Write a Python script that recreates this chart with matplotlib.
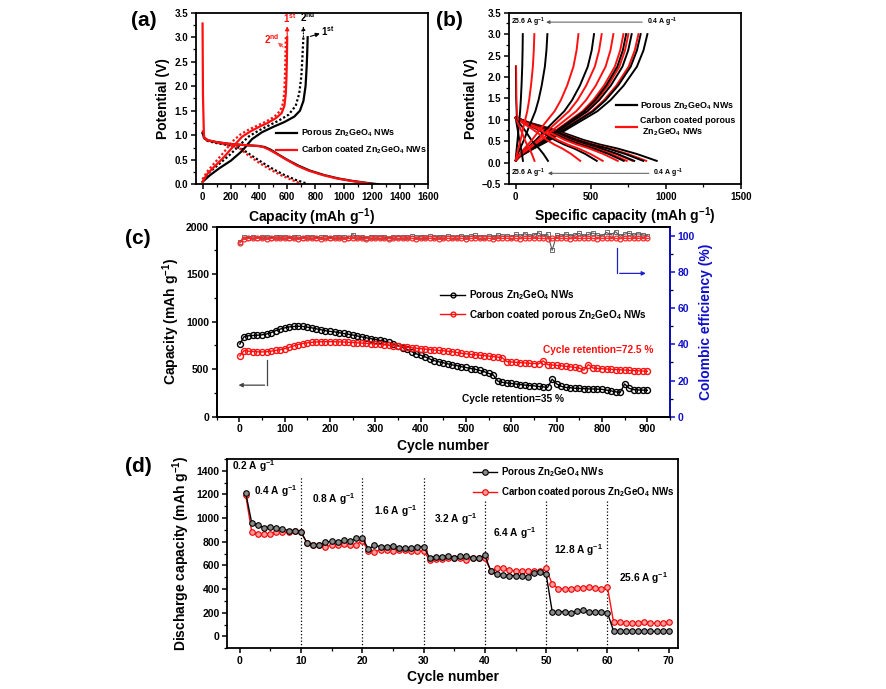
import numpy as np
import matplotlib
matplotlib.use("Agg")
import matplotlib.pyplot as plt
from matplotlib.ticker import MultipleLocator

plt.rcParams.update({
    'font.family': 'Liberation Sans',
    'font.weight': 'bold',
    'axes.labelweight': 'bold',
    'mathtext.fontset': 'custom',
    'mathtext.rm': 'Liberation Sans:bold',
    'mathtext.bf': 'Liberation Sans:bold',
    'mathtext.it': 'Liberation Sans:bold:italic',
    'mathtext.sf': 'Liberation Sans:bold',
    'mathtext.default': 'rm',
    'axes.linewidth': 1.3,
})

UNIT = r'(mAh g$^{-1}$)'
ZGO = r'Zn$_2$GeO$_4$'

# ---------------- Panel (a) data ----------------
a_dis1_porous_cap = [0, 10, 30, 100, 200, 300, 400, 440, 480, 530, 600, 680, 760, 860, 960, 1060, 1160, 1250]
a_dis1_porous_v = [1.05, 0.95, 0.90, 0.86, 0.82, 0.80, 0.78, 0.76, 0.71, 0.62, 0.50, 0.38, 0.28, 0.19, 0.12, 0.07, 0.03, 0.0]
a_dis1_carbon_cap = [0, 3, 10, 30, 100, 200, 300, 400, 430, 470, 520, 590, 670, 750, 850, 950, 1050, 1150, 1210]
a_dis1_carbon_v = [3.28, 1.8, 0.95, 0.90, 0.86, 0.82, 0.80, 0.78, 0.76, 0.71, 0.63, 0.51, 0.38, 0.28, 0.19, 0.12, 0.07, 0.03, 0.0]
a_dis2_porous_cap = [0, 15, 40, 100, 200, 270, 340, 420, 500, 580, 660, 745]
a_dis2_porous_v = [1.05, 0.93, 0.88, 0.84, 0.79, 0.74, 0.60, 0.45, 0.31, 0.19, 0.09, 0.01]
a_dis2_carbon_cap = [0, 15, 40, 100, 200, 260, 320, 400, 480, 560, 640, 700]
a_dis2_carbon_v = [1.10, 0.95, 0.90, 0.85, 0.79, 0.74, 0.60, 0.44, 0.30, 0.18, 0.08, 0.01]
a_chg1_porous_cap = [0, 50, 120, 200, 280, 350, 420, 500, 580, 650, 690, 715, 730, 738, 742, 745]
a_chg1_porous_v = [0.05, 0.18, 0.33, 0.48, 0.68, 0.92, 1.06, 1.17, 1.27, 1.38, 1.50, 1.70, 2.00, 2.40, 2.70, 3.00]
a_chg2_porous_cap = [0, 50, 120, 200, 270, 330, 400, 470, 540, 610, 660, 685, 700, 708, 712, 715]
a_chg2_porous_v = [0.10, 0.25, 0.42, 0.62, 0.82, 0.98, 1.10, 1.20, 1.30, 1.42, 1.60, 1.85, 2.20, 2.60, 2.85, 3.00]
a_chg1_carbon_cap = [0, 30, 80, 150, 220, 280, 340, 400, 460, 520, 560, 580, 590, 595, 598, 600]
a_chg1_carbon_v = [0.05, 0.20, 0.35, 0.55, 0.78, 0.97, 1.08, 1.17, 1.25, 1.35, 1.45, 1.60, 1.85, 2.20, 2.60, 3.00]
a_chg2_carbon_cap = [0, 30, 80, 150, 210, 270, 330, 390, 450, 510, 550, 570, 580, 585, 588, 590]
a_chg2_carbon_v = [0.10, 0.25, 0.42, 0.65, 0.87, 1.02, 1.12, 1.20, 1.28, 1.38, 1.50, 1.65, 1.90, 2.30, 2.70, 3.00]

# ---------------- Panel (b) data ----------------
b_rates = ['0.4', '0.8', '1.6', '3.2', '6.4', '12.8', '25.6']
b_chg_cap_porous = [878, 833, 773, 736, 522, 211, 47]
b_chg_cap_carbon = [818, 751, 718, 651, 573, 418, 124]
b_dis_cap_porous = [940, 850, 790, 720, 540, 215, 48]
b_dis_cap_carbon = [870, 780, 740, 680, 580, 430, 125]
b_chg_shape_frac = [0, 0.03, 0.12, 0.26, 0.40, 0.51, 0.62, 0.72, 0.82, 0.92, 0.97, 1.0]
b_chg_shape_v = [0.05, 0.14, 0.30, 0.53, 0.80, 1.00, 1.20, 1.46, 1.80, 2.24, 2.62, 3.00]
b_dis_shape_frac = [0, 0.02, 0.10, 0.24, 0.36, 0.48, 0.60, 0.72, 0.86, 1.0]
b_dis_shape_v = [1.05, 1.03, 0.93, 0.80, 0.67, 0.53, 0.42, 0.33, 0.20, 0.04]
b_ocv_porous_cap = [0, 2, 6, 12]
b_ocv_porous_v = [2.25, 1.5, 1.1, 1.0]
b_ocv_carbon_cap = [3, 5, 9, 16]
b_ocv_carbon_v = [2.25, 1.55, 1.12, 1.0]

# ---------------- Panel (c) data ----------------
c_cycles = [1] + list(range(10, 901, 10))
c_cap_porous = [765, 840, 852, 855, 858, 862, 870, 885, 905, 922,
                935, 945, 950, 952, 950, 943, 935, 925, 915, 905,
                898, 893, 885, 876, 868, 860, 850, 840, 830, 822,
                812, 804, 795, 782, 765, 748, 728, 708, 685, 662,
                648, 630, 608, 590, 578, 568, 556, 545, 538, 526,
                518, 507, 500, 488, 474, 456, 440, 375, 362, 355,
                350, 344, 338, 333, 328, 325, 318, 314, 308, 395,
                345, 320, 308, 305, 300, 298, 296, 293, 292, 290,
                288, 280, 272, 262, 255, 345, 298, 285, 282, 280,
                278]
c_cap_carbon = [640, 695, 690, 686, 683, 682, 684, 690, 698, 706,
                716, 730, 745, 760, 770, 778, 783, 787, 789, 790,
                790, 789, 788, 786, 784, 781, 778, 775, 772, 769,
                765, 761, 757, 752, 747, 742, 737, 732, 726, 721,
                716, 712, 707, 702, 698, 694, 689, 683, 676, 668,
                662, 656, 652, 648, 643, 638, 633, 627, 620, 580,
                576, 572, 569, 566, 563, 560, 556, 588, 548, 544,
                540, 535, 530, 525, 518, 512, 490, 548, 512, 508,
                505, 502, 499, 496, 494, 491, 488, 485, 483, 481,
                478]
c_ce_porous = [96.5, 99.2, 99.0, 99.3, 98.9, 99.1, 99.4, 99.0, 99.2, 99.1,
               99.3, 99.0, 99.2, 99.1, 98.9, 99.2, 99.3, 99.0, 99.1, 99.4,
               99.0, 99.2, 99.1, 99.3, 99.0, 100.6, 99.2, 99.1, 99.0, 99.3,
               99.2, 99.4, 99.1, 99.0, 99.2, 99.5, 99.3, 99.1, 99.6, 99.2,
               99.4, 99.1, 99.6, 99.3, 99.5, 99.2, 99.7, 99.4, 99.3, 99.8,
               99.4, 99.6, 100.2, 99.5, 99.3, 99.8, 99.5, 100.4, 99.6, 99.8,
               99.5, 100.8, 99.7, 101.2, 99.6, 100.5, 101.6, 99.8, 100.9, 92.0,
               100.3, 99.7, 101.0, 99.9, 100.4, 101.3, 99.8, 100.7, 101.5, 100.2,
               99.9, 101.8, 100.6, 102.2, 99.7, 100.9, 101.4, 100.3, 101.1, 100.5,
               100.0]
c_ce_carbon = [96.0, 98.4, 98.5, 98.5, 98.6, 98.5, 98.4, 98.5, 98.6, 98.5,
               98.5, 98.6, 98.5, 98.4, 98.5, 98.6, 98.5, 98.5, 98.4, 98.6,
               98.5, 98.5, 98.6, 98.4, 98.5, 98.5, 98.6, 98.5, 98.4, 98.5,
               98.6, 98.5, 98.5, 98.4, 98.6, 98.5, 98.5, 98.6, 98.5, 98.4,
               98.5, 98.6, 98.5, 98.5, 98.4, 98.6, 98.5, 98.5, 98.6, 98.5,
               98.4, 98.5, 98.6, 98.5, 98.5, 98.6, 98.4, 98.5, 98.5, 98.6,
               98.5, 98.5, 98.4, 98.6, 98.5, 98.5, 98.6, 98.5, 98.4, 98.5,
               98.6, 98.5, 98.5, 98.4, 98.6, 98.5, 98.5, 98.6, 98.5, 98.4,
               98.5, 98.6, 98.5, 98.5, 98.4, 98.6, 98.5, 98.5, 98.6, 98.5,
               98.5]

# ---------------- Panel (d) data ----------------
d_cycles = list(range(1, 71))
d_cap_porous = [1215, 955, 940, 920, 925, 915, 910, 895, 895, 885,
                790, 775, 775, 795, 805, 800, 815, 805, 830, 835,
                740, 770, 760, 760, 765, 750, 750, 745, 760, 760,
                665, 675, 675, 680, 665, 680, 680, 665, 665, 685,
                550, 525, 520, 515, 515, 510, 500, 540, 545, 525,
                205, 210, 210, 200, 215, 220, 210, 205, 205, 200,
                45, 45, 44, 44, 43, 44, 43, 43, 44, 42]
d_cap_carbon = [1195, 880, 870, 865, 870, 880, 880, 880, 890, 885,
                790, 775, 770, 760, 770, 775, 780, 770, 775, 810,
                725, 715, 735, 730, 725, 730, 730, 720, 725, 720,
                650, 655, 655, 665, 665, 660, 650, 660, 660, 660,
                555, 580, 580, 560, 555, 555, 555, 555, 550, 575,
                440, 405, 400, 405, 410, 410, 420, 410, 405, 415,
                120, 120, 110, 110, 115, 120, 115, 110, 115, 120]
d_rate_labels = ['0.2', '0.4', '0.8', '1.6', '3.2', '6.4', '12.8', '25.6']
d_rate_label_x = [-1.3, 5.8, 15.3, 25.5, 35.3, 44.9, 55.2, 65.9]
d_rate_label_y = [1440, 1228, 1157, 1059, 988, 875, 734, 494]
d_div_x = [10, 20, 30, 40, 50, 60]
d_div_top = [1350, 1350, 1350, 1150, 1150, 1150]

fig = plt.figure(figsize=(8.86, 6.89), dpi=100)
W, H = 886.0, 689.0


def add_ax(left, top, right, bottom):
    return fig.add_axes([left / W, 1 - bottom / H, (right - left) / W, (bottom - top) / H])


def style(ax, fs=7):
    ax.tick_params(which='major', direction='out', length=3.5, width=1.1, labelsize=fs, pad=2)
    ax.tick_params(which='minor', direction='out', length=2, width=0.9)
    for lab in ax.get_xticklabels() + ax.get_yticklabels():
        lab.set_fontweight('bold')


# ===== (a) =====
axa = add_ax(195.5, 12.7, 428.3, 184.3)
axa.plot(a_dis1_porous_cap, a_dis1_porous_v, color='black', lw=1.6)
axa.plot(a_chg1_porous_cap, a_chg1_porous_v, color='black', lw=1.6)
axa.plot(a_dis2_porous_cap, a_dis2_porous_v, color='black', lw=1.6, ls=(0, (1, 1)))
axa.plot(a_chg2_porous_cap, a_chg2_porous_v, color='black', lw=1.6, ls=(0, (1, 1)))
axa.plot(a_dis1_carbon_cap, a_dis1_carbon_v, color='#ff1010', lw=1.6)
axa.plot(a_chg1_carbon_cap, a_chg1_carbon_v, color='#ff1010', lw=1.6)
axa.plot(a_dis2_carbon_cap, a_dis2_carbon_v, color='#ff1010', lw=1.6, ls=(0, (1, 1)))
axa.plot(a_chg2_carbon_cap, a_chg2_carbon_v, color='#ff1010', lw=1.6, ls=(0, (1, 1)))
axa.set_xlim(-50, 1600)
axa.set_ylim(0, 3.5)
axa.xaxis.set_major_locator(MultipleLocator(200))
axa.xaxis.set_minor_locator(MultipleLocator(100))
axa.yaxis.set_major_locator(MultipleLocator(0.5))
axa.yaxis.set_minor_locator(MultipleLocator(0.25))
axa.set_xlabel('Capacity ' + UNIT, fontsize=10, labelpad=3)
axa.set_ylabel('Potential (V)', fontsize=10, labelpad=3)
style(axa)
ap = dict(arrowstyle='-|>', lw=0.8, mutation_scale=6)
axa.annotate('', xy=(600, 3.28), xytext=(600, 2.9), arrowprops=dict(ap, color='#ff1010'))
axa.annotate('', xy=(715, 3.28), xytext=(715, 2.95), arrowprops=dict(ap, color='black', ls=':'))
axa.annotate('', xy=(850, 3.09), xytext=(745, 3.0), arrowprops=dict(ap, color='black'))
axa.annotate('', xy=(520, 2.93), xytext=(585, 2.76), arrowprops=dict(ap, color='#ff5a5a'))
axa.text(615, 3.38, r'1$^{st}$', color='#ff1010', fontsize=7, ha='center', va='center')
axa.text(745, 3.42, r'2$^{nd}$', color='black', fontsize=7, ha='center', va='center')
axa.text(890, 3.12, r'1$^{st}$', color='black', fontsize=7, ha='center', va='center')
axa.text(490, 2.97, r'2$^{nd}$', color='#ff1010', fontsize=7, ha='center', va='center')
axa.legend([plt.Line2D([], [], color='black', lw=1.6), plt.Line2D([], [], color='#ff1010', lw=1.6)],
           ['Porous ' + ZGO + ' NWs', 'Carbon coated ' + ZGO + ' NWs'],
           loc='upper left', bbox_to_anchor=(0.345, 0.33), frameon=False, fontsize=6.4,
           handlelength=2.4, handletextpad=0.4, borderpad=0, borderaxespad=0, labelspacing=0.5)
fig.text(144 / W, 1 - 21 / H, '(a)', fontsize=15, ha='center', va='center')

# ===== (b) =====
axb = add_ax(509, 12.7, 740.7, 184)
for i in range(len(b_rates)):
    cp = np.array(b_chg_shape_frac) * b_chg_cap_porous[i]
    cc = np.array(b_chg_shape_frac) * b_chg_cap_carbon[i]
    dp = np.array(b_dis_shape_frac) * b_dis_cap_porous[i]
    dc = np.array(b_dis_shape_frac) * b_dis_cap_carbon[i]
    axb.plot(cp, b_chg_shape_v, color='black', lw=1.4)
    axb.plot(dp, b_dis_shape_v, color='black', lw=1.4)
    axb.plot(cc, b_chg_shape_v, color='#ff1010', lw=1.4)
    axb.plot(dc, b_dis_shape_v, color='#ff1010', lw=1.4)
axb.plot(b_ocv_porous_cap, b_ocv_porous_v, color='black', lw=1.2)
axb.plot(b_ocv_carbon_cap, b_ocv_carbon_v, color='#ff1010', lw=1.2)
axb.set_xlim(-45, 1500)
axb.set_ylim(-0.5, 3.5)
axb.xaxis.set_major_locator(MultipleLocator(500))
axb.xaxis.set_minor_locator(MultipleLocator(250))
axb.yaxis.set_major_locator(MultipleLocator(0.5))
axb.yaxis.set_minor_locator(MultipleLocator(0.25))
axb.set_xlabel('Specific capacity ' + UNIT, fontsize=10, labelpad=3)
axb.set_ylabel('Potential (V)', fontsize=10, labelpad=3)
style(axb)
gap = dict(arrowstyle='-|>', lw=0.7, color='#555555', mutation_scale=5)
axb.annotate('', xy=(184, 3.28), xytext=(862, 3.28), arrowprops=gap)
axb.annotate('', xy=(196, -0.25), xytext=(907, -0.25), arrowprops=gap)
axb.text(-31, 3.28, r'25.6 A g$^{-1}$', fontsize=5, ha='left', va='center')
axb.text(873, 3.28, r'0.4 A g$^{-1}$', fontsize=5, ha='left', va='center')
axb.text(-31, -0.25, r'25.6 A g$^{-1}$', fontsize=5, ha='left', va='center')
axb.text(918, -0.25, r'0.4 A g$^{-1}$', fontsize=5, ha='left', va='center')
axb.legend([plt.Line2D([], [], color='black', lw=1.6), plt.Line2D([], [], color='#ff1010', lw=1.6)],
           ['Porous ' + ZGO + ' NWs', 'Carbon coated porous\n ' + ZGO + ' NWs'],
           loc='upper left', bbox_to_anchor=(0.46, 0.49), frameon=False, fontsize=6.4,
           handlelength=2.4, handletextpad=0.4, borderpad=0, borderaxespad=0, labelspacing=0.5)
fig.text(449 / W, 1 - 21 / H, '(b)', fontsize=15, ha='center', va='center')

# ===== (c) =====
axc = add_ax(216.7, 226.7, 670, 416.7)
axc2 = axc.twinx()
axc2.plot(c_cycles, c_ce_porous, color='#555555', lw=0.8, marker='s', ms=3, mfc='none', mew=0.6, zorder=2)
axc2.plot(c_cycles, c_ce_carbon, color='#ff2a2a', lw=1.0, marker='o', ms=3.5, mfc='none', mew=0.9, zorder=3)
axc.plot(c_cycles, c_cap_porous, color='black', lw=1.0, marker='o', ms=4.3, mfc='none', mew=1.0,
         label='Porous ' + ZGO + ' NWs')
axc.plot(c_cycles, c_cap_carbon, color='#ff1010', lw=1.0, marker='o', ms=4.3, mfc='none', mew=1.0,
         label='Carbon coated porous ' + ZGO + ' NWs')
axc.set_xlim(-50, 950)
axc.set_ylim(0, 2000)
axc2.set_ylim(0, 105)
axc.xaxis.set_major_locator(MultipleLocator(100))
axc.xaxis.set_minor_locator(MultipleLocator(50))
axc.yaxis.set_major_locator(MultipleLocator(500))
axc.yaxis.set_minor_locator(MultipleLocator(250))
axc2.yaxis.set_major_locator(MultipleLocator(20))
axc2.yaxis.set_minor_locator(MultipleLocator(10))
axc.set_xlabel('Cycle number', fontsize=10, labelpad=3)
axc.set_ylabel('Capacity ' + UNIT, fontsize=10, labelpad=3)
axc2.set_ylabel('Colombic efficiency (%)', fontsize=10, color='#1010cc', labelpad=3)
style(axc, 7.5)
style(axc2, 7.5)
axc2.tick_params(axis='y', colors='#1010cc')
axc2.spines['right'].set_color('#1010cc')
axc2.spines['right'].set_linewidth(1.3)
axc.plot([62, 62], [597, 332], color='#444444', lw=0.9)
axc.annotate('', xy=(-8, 332), xytext=(62, 332),
             arrowprops=dict(arrowstyle='-|>', lw=0.9, color='#444444', mutation_scale=6))
axc2.plot([833, 833], [93, 79.2], color='#2020cc', lw=0.9)
axc2.annotate('', xy=(903, 79.2), xytext=(833, 79.2),
              arrowprops=dict(arrowstyle='-|>', lw=0.9, color='#2020cc', mutation_scale=6))
axc.text(669, 703, 'Cycle retention=72.5 %', color='#ff1010', fontsize=7.3, ha='left', va='center')
axc.text(491, 191, 'Cycle retention=35 %', color='black', fontsize=7.3, ha='left', va='center')
axc.legend(loc='upper left', bbox_to_anchor=(0.493, 0.675), frameon=False, fontsize=7.2,
           handlelength=2.5, handletextpad=0.4, borderpad=0, borderaxespad=0, labelspacing=0.55,
           markerscale=0.8)
fig.text(138 / W, 1 - 238 / H, '(c)', fontsize=15, ha='center', va='center')

# ===== (d) =====
axd = add_ax(227.3, 459, 678, 648.3)
for xv, top in zip(d_div_x, d_div_top):
    axd.plot([xv, xv], [-100, top], color='black', lw=0.9, ls=':', zorder=1)
axd.plot(d_cycles, d_cap_porous, color='black', lw=1.0, marker='o', ms=4, mfc='#8a8a8a', mec='black', mew=0.8,
         label='Porous ' + ZGO + ' NWs', zorder=3)
axd.plot(d_cycles, d_cap_carbon, color='#ff1010', lw=1.0, marker='o', ms=4, mfc='#ff9a9a', mec='#ee0000', mew=0.8,
         label='Carbon coated porous ' + ZGO + ' NWs', zorder=2)
for lab, xv, yv in zip(d_rate_labels, d_rate_label_x, d_rate_label_y):
    ha = 'left' if lab == '0.2' else 'center'
    axd.text(xv, yv, lab + r' A g$^{-1}$', fontsize=7.3, ha=ha, va='center')
axd.set_xlim(-2, 71.5)
axd.set_ylim(-100, 1500)
axd.xaxis.set_major_locator(MultipleLocator(10))
axd.xaxis.set_minor_locator(MultipleLocator(5))
axd.yaxis.set_major_locator(MultipleLocator(200))
axd.yaxis.set_minor_locator(MultipleLocator(100))
axd.set_xlabel('Cycle number', fontsize=10, labelpad=3)
axd.set_ylabel('Discharge capacity ' + UNIT, fontsize=10, labelpad=3)
style(axd, 7.5)
axd.legend(loc='upper left', bbox_to_anchor=(0.545, 0.965), frameon=False, fontsize=7.0,
           handlelength=2.5, handletextpad=0.4, borderpad=0, borderaxespad=0, labelspacing=0.6)
fig.text(138 / W, 1 - 467 / H, '(d)', fontsize=15, ha='center', va='center')

fig.savefig('out.png', dpi=100)
